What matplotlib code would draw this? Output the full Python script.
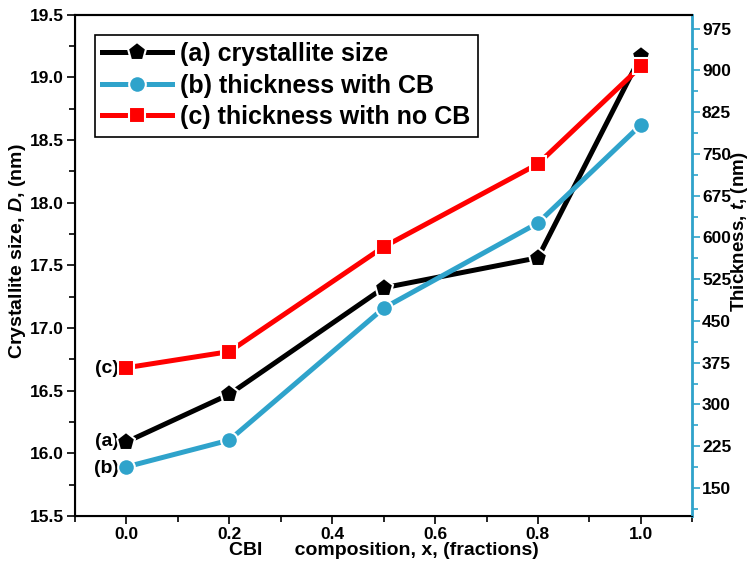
import numpy as np
import matplotlib.pyplot as plt
from matplotlib.ticker import MultipleLocator

plt.rcParams['font.family'] = ['Liberation Sans', 'DejaVu Sans']
plt.rcParams['font.weight'] = 'bold'
plt.rcParams['axes.labelweight'] = 'bold'
plt.rcParams['mathtext.fontset'] = 'custom'
plt.rcParams['mathtext.it'] = 'Liberation Sans:italic:bold'
plt.rcParams['mathtext.rm'] = 'Liberation Sans:bold'

# data
x = [0.0, 0.2, 0.5, 0.8, 1.0]
crystallite = [16.09, 16.47, 17.32, 17.56, 19.17]   # nm, left axis
thick_cb = [188, 236, 473, 626, 802]                # nm, right axis
thick_nocb = [366, 395, 583, 732, 907]              # nm, right axis

labels = ['(a) crystallite size', '(b) thickness with CB', '(c) thickness with no CB']
blue = '#2fa3cb'

fig = plt.figure(figsize=(7.5, 5.65), dpi=100)
ax = fig.add_axes([0.1, 0.087, 0.823, 0.887])
ax2 = ax.twinx()

l1, = ax.plot(x, crystallite, color='black', lw=3.6, marker='p', ms=14,
              mec='white', mew=1.5, zorder=5)
l2, = ax2.plot(x, thick_cb, color=blue, lw=3.6, marker='o', ms=12,
               mec='white', mew=1.5)
l3, = ax2.plot(x, thick_nocb, color='#ff0000', lw=3.6, marker='s', ms=11,
               mec='white', mew=1.5)

ax.set_xlim(-0.1, 1.1)
ax.set_ylim(15.5, 19.5)
ax2.set_ylim(100, 1000)

ax.xaxis.set_major_locator(MultipleLocator(0.2))
ax.xaxis.set_minor_locator(MultipleLocator(0.1))
ax.yaxis.set_major_locator(MultipleLocator(0.5))
ax.yaxis.set_minor_locator(MultipleLocator(0.25))
ax2.set_yticks(np.arange(150, 1000, 75))
ax2.yaxis.set_minor_locator(MultipleLocator(37.5))

ax.tick_params(axis='both', which='major', direction='out', length=6, width=1.2,
               labelsize=12.5)
ax.tick_params(axis='both', which='minor', direction='out', length=4, width=1.2)
ax.tick_params(axis='x', pad=2)
ax.tick_params(axis='y', right=False, pad=2)
ax.tick_params(axis='x', top=False, which='both')
ax2.tick_params(axis='y', which='major', direction='out', length=6, width=1.2,
                color=blue, labelsize=12.5, pad=1)
ax2.tick_params(axis='y', which='minor', direction='out', length=4, width=1.2,
                color=blue)

for s in ['left', 'bottom', 'top']:
    ax.spines[s].set_linewidth(1.5)
ax2.spines['right'].set_color(blue)
ax2.spines['right'].set_linewidth(2)
ax2.spines['top'].set_linewidth(1.5)

# axis titles placed as in the reference
fig.text(0.024, 0.556, 'Crystallite size, $\\mathit{D}$, (nm)', fontsize=14,
         rotation=90, ha='center', va='center')
fig.text(0.986, 0.589, 'Thickness, $\\mathit{t}$, (nm)', fontsize=13.5,
         rotation=90, ha='center', va='center')
ax.set_xlabel('CBI      composition, x, (fractions)', fontsize=14, labelpad=0)

# labels next to first points
ax.text(-0.015, crystallite[0], '(a)', fontsize=14, ha='right', va='center')
ax.text(-0.015, 15.88, '(b)', fontsize=14, ha='right', va='center')
ax.text(-0.015, 16.68, '(c)', fontsize=14, ha='right', va='center')

leg = ax.legend([l1, l2, l3], labels, loc='upper left', bbox_to_anchor=(0.012, 0.985),
                fontsize=18, handlelength=2.8, handletextpad=0.3, borderpad=0.3,
                labelspacing=0.3, fancybox=False, framealpha=1, edgecolor='black')
leg.get_frame().set_linewidth(1.2)
leg.set_zorder(10)

fig.savefig('out.png', dpi=100)
